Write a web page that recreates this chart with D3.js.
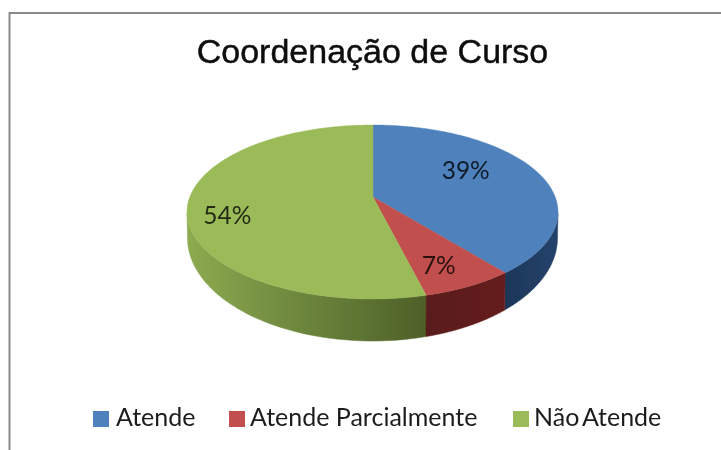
<!DOCTYPE html>
<html><head><meta charset="utf-8">
<style>html,body{margin:0;padding:0;background:#fff}svg{display:block}</style>
<script src="https://cdn.jsdelivr.net/npm/d3@7"></script></head>
<body><svg id="c" width="721" height="450"></svg>
<script>
const title = "Coordenação de Curso";
const categories = ["Atende", "Atende Parcialmente", "Não Atende"];
const values = [39, 7, 54];
const labels = ["39%", "7%", "54%"];
const faceColors = ["#4f81bd", "#c0504d", "#9bbb59"];
const labelReach = [0.575, 0.685, 0.784];
const labelShift = [-12, 6, 9];

const svg = d3.select("#c");
const W = 721, H = 450;
svg.append("rect").attr("width", W).attr("height", H).attr("fill", "#fff");
const defs = svg.append("defs");
defs.append("filter").attr("id", "soft").append("feGaussianBlur").attr("stdDeviation", 0.45);

const mk = (id, x1, x2, stops) => {
  const g = defs.append("linearGradient").attr("id", id).attr("gradientUnits", "userSpaceOnUse")
    .attr("x1", x1).attr("x2", x2).attr("y1", 0).attr("y2", 0);
  stops.forEach(s => g.append("stop").attr("offset", s[0]).attr("stop-color", s[1]));
};
mk("s0", 505, 558, [[0, "#1c3658"], [1, "#25436b"]]);
mk("s1", 423, 507, [[0, "#581c1c"], [1, "#661f1f"]]);
mk("s2", 187, 423, [[0, "#8dab50"], [0.4, "#728c40"], [1, "#4e6128"]]);

svg.append("path").attr("d", `M9.5 450V13H721`).attr("fill", "none")
  .attr("stroke", "#8a8a8a").attr("stroke-width", 2);

const root = svg.append("g").attr("filter", "url(#soft)");

const C = {x: 372.5, y: 212, rx: 185.5, ry: 87};
const B = {x: 372.5, y: 238, rx: 185, ry: 103};
const A = {x: 373, y: 197};
const tilt = 0.475;

function rim(a) {
  const dx = Math.sin(a), dy = -Math.cos(a) * tilt;
  const ox = (A.x - C.x) / C.rx, oy = (A.y - C.y) / C.ry;
  const ux = dx / C.rx, uy = dy / C.ry;
  const qa = ux*ux + uy*uy, qb = 2*(ox*ux + oy*uy), qc = ox*ox + oy*oy - 1;
  const s = (-qb + Math.sqrt(qb*qb - 4*qa*qc)) / (2*qa);
  return [A.x + s*dx, A.y + s*dy];
}
const drop = p => [B.x + (p[0]-C.x)*B.rx/C.rx, B.y + (p[1]-C.y)*B.ry/C.ry];
const line = d3.line();

const arcs = d3.pie().sort(null).value(d => d)(values);
const sample = d => d3.range(0, 121).map(i => rim(d.startAngle + (d.endAngle-d.startAngle)*i/120));

[0, 2, 1].forEach(i => {
  const front = sample(arcs[i]).filter(p => p[1] >= C.y);
  root.append("path").attr("d", line(front.concat(front.map(drop).reverse())) + "Z")
    .attr("fill", `url(#s${i})`).attr("stroke", `url(#s${i})`).attr("stroke-width", 0.5);
});
arcs.forEach((d, i) => {
  root.append("path").attr("d", line([[A.x, A.y]].concat(sample(d))) + "Z")
    .attr("fill", faceColors[i]).attr("stroke", faceColors[i]).attr("stroke-width", 0.4);
});
arcs.forEach((d, i) => {
  const m = rim((d.startAngle + d.endAngle)/2);
  root.append("text")
    .attr("x", A.x + (m[0]-A.x)*labelReach[i])
    .attr("y", A.y + (m[1]-A.y)*labelReach[i] + labelShift[i])
    .attr("text-anchor", "middle").attr("dominant-baseline", "central")
    .attr("font-family", "Lato").attr("font-size", 24.5)
    .attr("fill", "#000").attr("fill-opacity", 0.78).text(labels[i]);
});
root.append("text").attr("x", 372.5).attr("y", 63).attr("text-anchor", "middle")
  .attr("font-family", "Liberation Sans").attr("font-size", 34).attr("fill", "#0a0a0a")
  .attr("stroke", "#0a0a0a").attr("stroke-width", 0.4).text(title);
const legX = [93, 229, 513], txtX = [116, 250, 534], legGap = [0, 0, -3];
categories.forEach((c, i) => {
  root.append("rect").attr("x", legX[i]).attr("y", 411).attr("width", 16).attr("height", 16).attr("fill", faceColors[i]);
  root.append("text").attr("x", txtX[i]).attr("y", 426).attr("font-family", "Lato").attr("font-size", 25)
    .attr("word-spacing", legGap[i]).attr("fill", "#1c1c1c").text(c);
});
</script></body></html>
